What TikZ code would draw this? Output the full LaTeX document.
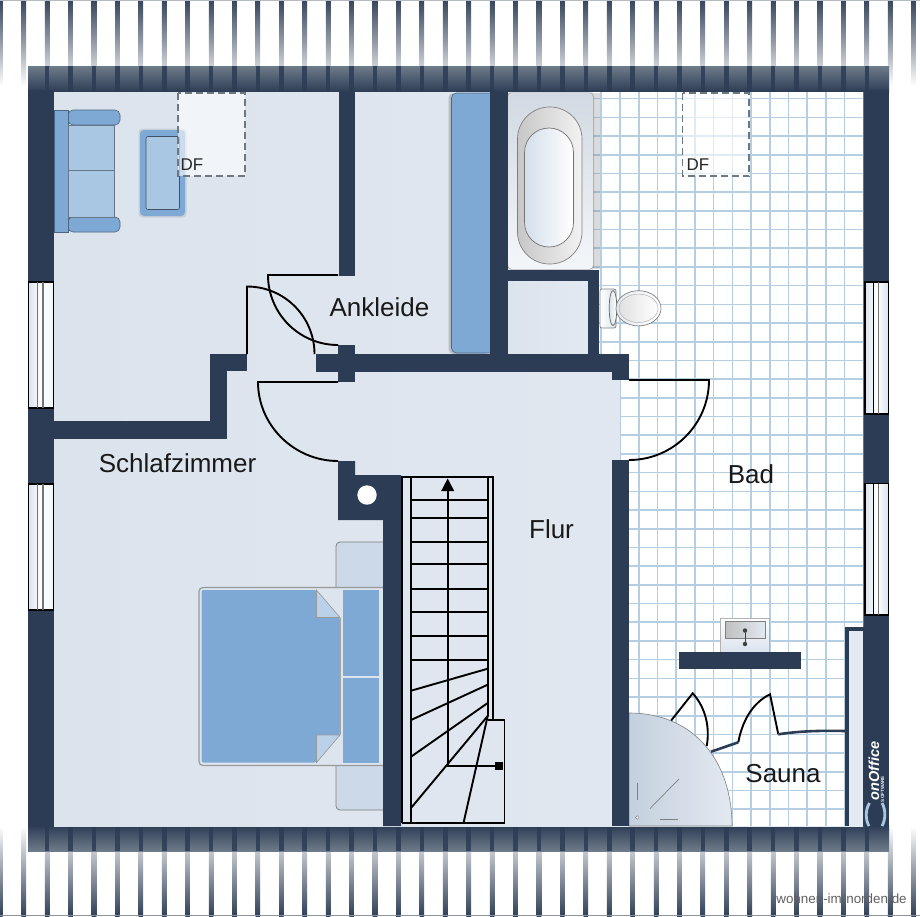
\documentclass[tikz,border=0pt]{standalone}
\usepackage{fontspec}
\setmainfont{Liberation Sans}
\definecolor{wallc}{HTML}{2C3C54}
\definecolor{bandtop}{HTML}{6E7B8A}
\definecolor{floorA}{HTML}{DBE3ED}
\definecolor{floorB}{HTML}{E3E9F1}
\definecolor{tilec}{HTML}{B5CEE2}
\definecolor{sofab}{HTML}{7FA9D5}
\definecolor{sofal}{HTML}{A9C6E3}
\definecolor{nightc}{HTML}{CBD9E8}
\definecolor{dashc}{HTML}{6F7780}
\tikzset{
  wallfill/.style={fill=wallc,draw=none},
  doorline/.style={draw=black,line width=1.9pt},
  stairline/.style={draw=black,line width=1.9pt},
  furn/.style={draw=#1!60!black,line width=.6pt,fill=#1},
  skylight/.style={draw=dashc,line width=1.5pt,dash pattern=on 7pt off 4pt,fill=white,fill opacity=.6},
  roomlabel/.style={font=\fontsize{26}{30}\selectfont,text=black!90,inner sep=0pt},
  dflabel/.style={font=\fontsize{17}{20}\selectfont,text=black!85,inner sep=0pt},
  winframe/.style={draw=black,line width=1.5pt},
}
\begin{document}
\begin{tikzpicture}[x=1pt,y=-1pt]
\useasboundingbox (0,0) rectangle (920,916);
\fill[white] (0,0) rectangle (920,916);
% roof stripes
\foreach \k in {0,...,39}{
  \pgfmathsetmacro{\xa}{-2+23.42*\k}
  \pgfmathsetmacro{\xb}{\xa+4.6}
  \shade[top color=wallc!95,bottom color=white,middle color=wallc!50] (\xa,0) rectangle (\xb,86);
  \shade[top color=white,bottom color=wallc!98,middle color=wallc!50] (\xb,826) rectangle (\xa,916);
}
\draw[wallc!35,line width=.8pt] (0,.5) -- (920,.5);
\draw[wallc!55,line width=.8pt] (0,915.3) -- (920,915.3);
% wall bands
\shade[top color=bandtop,bottom color=wallc] (28,66) rectangle (889,92);
\shade[top color=wallc,bottom color=bandtop] (28,825) rectangle (889,851);
\foreach \k in {2,...,37}{
  \pgfmathsetmacro{\xa}{-2+23.42*\k}
  \pgfmathsetmacro{\xb}{\xa+4.6}
  \fill[wallc,opacity=.85] (\xa,66) rectangle (\xb,92);
  \fill[wallc,opacity=.85] (\xa,825) rectangle (\xb,851);
}
\fill[wallfill] (28,90) rectangle (54,826);
\fill[wallfill] (863,90) rectangle (889,826);
% floor
\shade[left color=floorA,right color=floorB] (54,92) rectangle (863,826);
% tiles
\begin{scope}
\clip (593,92) -- (863,92) -- (863,826) -- (629,826) -- (629,460) -- (620,460) -- (620,380) -- (629,380) -- (629,354) -- (599,354) -- (599,270) -- (593,270) -- cycle;
\fill[white] (590,90) rectangle (865,828);
\foreach \i in {-2,...,13}{ \pgfmathsetmacro{\xv}{620+18.72*\i} \draw[tilec,line width=1.6pt] (\xv,90) -- (\xv,828); }
\foreach \j in {-1,...,40}{ \pgfmathsetmacro{\yv}{117.3+18.7*\j} \draw[tilec,line width=1.6pt] (590,\yv) -- (865,\yv); }
\end{scope}
\fill[gray,opacity=.28] (593,93) rectangle (600,269);
% WC room
\shade[left color=floorA,right color=floorB] (507,281) rectangle (588,354);
% sofa
\draw[furn=sofab,rounded corners=5pt] (68,110) -- (120,110) -- (120,125) -- (68,125) -- cycle;
\draw[furn=sofab,rounded corners=5pt] (68,217) -- (120,217) -- (120,232) -- (68,232) -- cycle;
\draw[furn=sofab] (54,110.5) rectangle (68.5,232);
\draw[furn=sofal] (68.5,125) rectangle (114.5,170);
\draw[furn=sofal] (68.5,170) rectangle (114.5,217);
% armchair
\fill[gray,opacity=.22,rounded corners=4pt] (138.5,128.5) rectangle (186.5,217.5);
\fill[sofab,rounded corners=4pt] (140,130) rectangle (185,216);
\draw[furn=sofal,rounded corners=2pt,draw=wallc!90] (146,136.5) rectangle (179.5,209.5);
% wardrobe
\fill[gray,opacity=.4,rounded corners=5pt] (448.5,93) rectangle (490,354);
\draw[furn=sofab,rounded corners=5pt] (451.5,93) rectangle (495,353);
% bed
\draw[fill=nightc,draw=gray,line width=.8pt,rounded corners=4pt] (336,542) rectangle (390,600);
\draw[fill=nightc,draw=gray,line width=.8pt,rounded corners=4pt] (336,750) rectangle (390,810);
\draw[fill=floorB!70!nightc,draw=gray!80,line width=1.2pt,rounded corners=4pt] (199,587.5) rectangle (390,765.5);
\fill[sofab,rounded corners=2pt] (201.5,590) -- (316.5,590) -- (340,617.5) -- (340,735) -- (316.5,762.5) -- (201.5,762.5) -- cycle;
\draw[draw=gray!80,fill=sofal!80!white,line width=.6pt] (316.5,590) -- (340,617.5) -- (316.5,617.5) -- cycle;
\draw[draw=gray!80,fill=sofal!80!white,line width=.6pt] (316.5,762.5) -- (340,735) -- (316.5,735) -- cycle;
\draw[draw=gray!70,line width=.8pt] (340.5,617.5) -- (340.5,735);
\fill[sofab] (342.5,590) rectangle (379,675.5);
\fill[sofab] (342.5,677.5) rectangle (379,762.5);
% bathtub
\fill[gray,opacity=.5,rounded corners=4pt] (507,92.5) rectangle (594,269.5);
\shade[top color=floorA!90!gray,bottom color=floorB!40!white,rounded corners=4pt] (508,93) rectangle (593,269);
\shade[left color=black!22,right color=black!5,draw=gray,line width=.7pt,rounded corners=32pt] (517.5,107) rectangle (582,264);
\shade[left color=floorA!80!tilec,right color=white,draw=gray!90!black,line width=.7pt,rounded corners=24.5pt] (524.5,128) rectangle (573.5,247);
% toilet
\shade[left color=white,right color=floorA,draw=gray,line width=.7pt,rounded corners=2pt] (600,289) rectangle (616,328);
\shade[left color=floorA,right color=white,draw=gray!80!black,line width=.7pt] (613,308) ellipse (3.8 and 17.5);
\shade[left color=floorB,right color=white,draw=gray,line width=.7pt] (638.5,308.3) ellipse (22.5 and 17.6);
\shade[left color=black!12,right color=white,draw=gray!60,line width=.5pt] (638.5,308.3) ellipse (19.5 and 14.2);
% sink
\shade[top color=white,bottom color=floorA,draw=gray!60,line width=.8pt] (720.5,618) rectangle (769,652);
\shade[left color=black!25,right color=floorB,draw=gray,line width=.6pt] (725.5,621.5) rectangle (765,638.5);
\fill[black!75] (745,630.5) circle (2.2);
\fill[black!75] (745,644) circle (2.2);
\draw[black!75,line width=1pt] (745,630.5) -- (745,644);
% sauna
\draw[doorline] (671,720.7) -- (692.7,693.3) .. controls (706,708) and (710,728) .. (706.7,746);
\draw[doorline] (738.3,742.3) .. controls (742,722) and (752,703) .. (770,694.3) -- (778.3,734.3);
\draw[wallc,line width=2.6pt] (711,751.7) -- (738.3,742.3);
\draw[wallc,line width=2.6pt] (778.3,734.3) .. controls (800,731) and (820,730.5) .. (845,731);
% shower
\shade[left color=nightc!90!gray,right color=floorB,draw=gray,line width=.6pt] (629,713) .. controls (695,713) and (732,762) .. (732,826) -- (629,826) -- cycle;
\draw[gray,line width=.7pt] (637.5,782.5) -- (637.5,800);
\draw[gray,line width=.7pt] (650,808.5) -- (679,779);
\draw[gray,line width=.7pt] (660,819) -- (678,819);
\fill[white,draw=gray,line width=.4pt] (637.3,817.5) circle (1.8);
% walls
\fill[wallfill] (339,92) rectangle (355,276);
\fill[wallfill] (338,345) rectangle (355,382);
\fill[wallfill] (316,354) rectangle (612,372);
\fill[wallfill] (612,354) rectangle (629,380);
\fill[wallfill] (612,460) rectangle (629,826);
\fill[wallfill] (490,92) rectangle (507.5,354);
\fill[wallfill] (507,270) rectangle (599,281);
\fill[wallfill] (588,270) rectangle (599,354);
\fill[wallfill] (209.5,354) rectangle (247,371);
\fill[wallfill] (209.5,354) rectangle (227,439);
\fill[wallfill] (54,421) rectangle (227,439);
\fill[wallfill] (338,461) -- (355,461) -- (355,475) -- (401,475) -- (401,826) -- (383,826) -- (383,520) -- (338,520) -- cycle;
\fill[white] (367,495) circle (9.7);
\fill[wallfill] (679,652) rectangle (801,669);
\fill[wallfill] (845,627) rectangle (863,826);
\fill[floorB] (849,631) rectangle (863,826);
\fill[wallfill] (863,627) rectangle (889,826);
% doors
\draw[doorline] (338,275) -- (268,275) .. controls (268,313.7) and (299.3,345) .. (338,345);
\draw[doorline] (247,354) -- (247,286.5) .. controls (284.3,286.5) and (314.5,316.7) .. (314.5,354);
\draw[doorline] (338,382) -- (258,382) .. controls (258,425.6) and (294.4,461) .. (338,461);
\draw[doorline] (629,380) -- (709,380) .. controls (709,424.2) and (673.2,460) .. (629,460);
% stair
\draw[stairline] (411,476.7) -- (411,823);
\draw[stairline] (487.7,476.7) -- (487.7,716);
\draw[stairline] (401.7,823) -- (401.7,476.7) -- (493.3,476.7) -- (493.3,720);
\draw[stairline] (487.7,720) -- (504.5,720) -- (504.5,823) -- (401.7,823);
\foreach \yy in {500,518,541.7,564,589,612,635.7,660}{ \draw[stairline] (411,\yy) -- (487.7,\yy); }
\draw[stairline] (411,690.7) -- (487.7,668.7);
\draw[stairline] (411,720) -- (487.7,684.7);
\draw[stairline] (411,756.7) -- (487.7,703);
\draw[stairline] (411,808) -- (487.7,716);
\draw[stairline] (463.5,823) -- (487.7,716);
\draw[stairline] (447.7,488) -- (447.7,765.7) -- (498,765.7);
\fill[black] (441.2,491) -- (447.7,478.5) -- (454.2,491) -- cycle;
\fill[black] (495,761.7) rectangle (503,769.7);
% windows
\foreach \ya/\yb in {282/408,484/610}{
  \shade[left color=floorA,right color=floorA!40!white,middle color=white,winframe] (28.7,\ya) rectangle (53.3,\yb);
  \draw[gray!90!black,line width=1.1pt] (37.5,\ya) -- (37.5,\yb);
  \draw[gray!90!black,line width=1.1pt] (43,\ya) -- (43,\yb);
}
\foreach \ya/\yb in {282/414,483.5/615}{
  \shade[left color=floorA,right color=floorA,middle color=white,winframe] (865,\ya) rectangle (888.5,\yb);
  \draw[black,line width=1.1pt] (873.5,\ya) -- (873.5,\yb);
  \draw[gray!90!black,line width=1.1pt] (878.8,\ya) -- (878.8,\yb);
}
% skylights
\draw[skylight] (178,93) rectangle (245,176);
\draw[skylight] (682.5,93) rectangle (749,176);
% text
\node[roomlabel] (schlaf) at (177.5,463) {Schlafzimmer};
\node[roomlabel] (ankleide) at (379.5,307) {Ankleide};
\node[roomlabel] (flur) at (551.5,529) {Flur};
\node[roomlabel] (bad) at (751,474) {Bad};
\node[roomlabel] (sauna) at (783,774) {Sauna};
\node[dflabel] (df1) at (192,165) {DF};
\node[dflabel] (df2) at (698,165) {DF};
\node[font=\fontsize{13.4}{16}\selectfont,text=black!62,inner sep=0pt] (site) at (841.5,899) {wohnen-im-norden.de};
% logo
\node[font=\bfseries\itshape\fontsize{14.5}{16}\selectfont,text=white,rotate=90,inner sep=0pt] (logo) at (874,771) {onOffice};
\node[font=\bfseries\fontsize{4.6}{5}\selectfont,text=white!80!sofal,rotate=90,inner sep=0pt] (logosub) at (882.5,789) {SOFTWARE};
\draw[sofal,line width=2.8pt] (869.5,803) .. controls (865,810) and (865.5,820) .. (869,826);
\draw[sofal,line width=2.8pt] (882,803) .. controls (886,810) and (885.5,820) .. (882,826);
\end{tikzpicture}
\end{document}
